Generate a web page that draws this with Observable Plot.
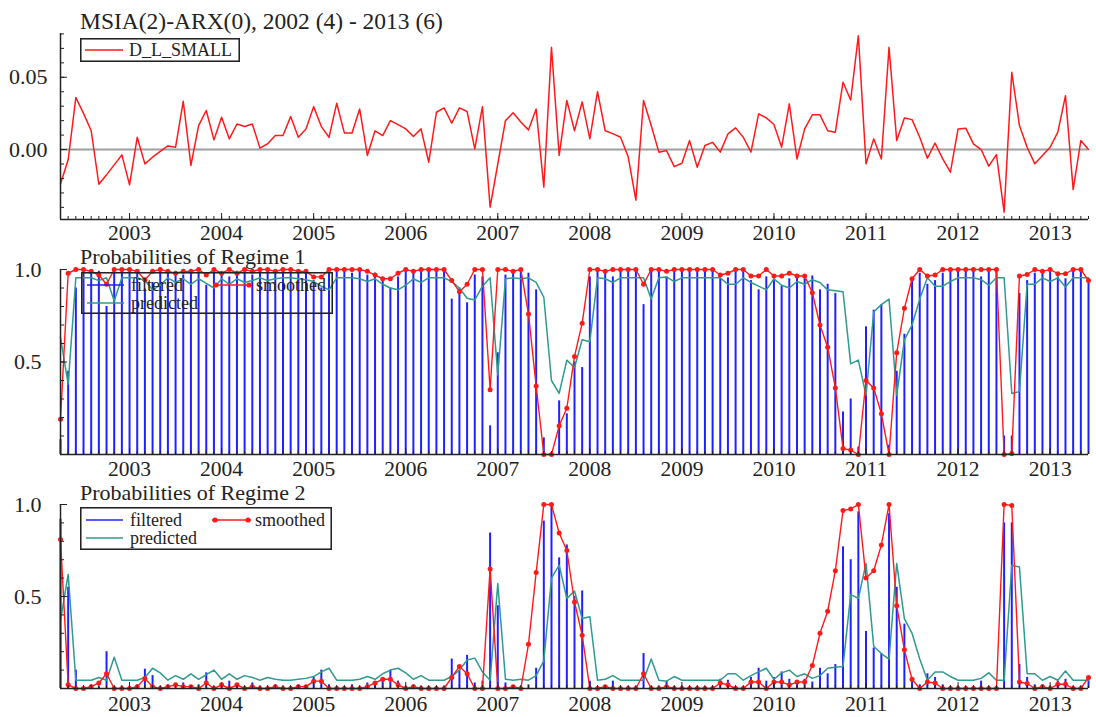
<!DOCTYPE html>
<html><head><meta charset="utf-8">
<script src="https://cdn.jsdelivr.net/npm/d3@7"></script>
<script src="https://cdn.jsdelivr.net/npm/@observablehq/plot@0.6"></script>
<style>
body{margin:0;background:#fff;}
#root{position:relative;width:1096px;height:717px;font-family:"Liberation Serif","Times New Roman",serif;color:#222;overflow:hidden;}
#root svg, #root svg text{font-family:"Liberation Serif","Times New Roman",serif !important;}
.panel{position:absolute;left:0;}
.title{position:absolute;left:80px;line-height:1;white-space:nowrap;}
.legend{position:absolute;}
</style></head>
<body><div id="root"></div>
<script>
// ---- data (monthly, 2002 (4) - 2013 (6)) ----
const startYear = 2002, startMonth = 4;
const mainTitle = "MSIA(2)-ARX(0), 2002 (4) - 2013 (6)";
const seriesName = "D_L_SMALL";
const regime1Title = "Probabilities of Regime 1";
const regime2Title = "Probabilities of Regime 2";
const yearTicks = [2003, 2004, 2005, 2006, 2007, 2008, 2009, 2010, 2011, 2012, 2013];
const topMinorTicks = [-0.04, -0.03, -0.02, -0.01, 0, 0.01, 0.02, 0.03, 0.04, 0.05, 0.06, 0.07, 0.08];
const topLabelTicks = [0, 0.05];
const probMinorTicks = [0, 0.1, 0.2, 0.3, 0.4, 0.5, 0.6, 0.7, 0.8, 0.9, 1.0];
const probLabelTicks = [0.5, 1.0];

const dlSmall = [
 -0.0237, -0.0071, 0.036, 0.025, 0.013, -0.024, -0.0175, -0.0106, -0.0037, -0.0244,
 0.0085, -0.0099, -0.0053, -0.0012, 0.0025, 0.0016, 0.0334, -0.011, 0.0166, 0.027,
 0.0067, 0.0224, 0.0074, 0.0177, 0.0159, 0.0177, 0.001, 0.004, 0.0097, 0.0097,
 0.0228, 0.0085, 0.0143, 0.0297, 0.0159, 0.0085, 0.032, 0.0115, 0.0115, 0.028,
 -0.0041, 0.013, 0.0097, 0.020, 0.0173, 0.0143, 0.009, 0.0143, -0.0088, 0.0258,
 0.0288, 0.0182, 0.0288, 0.0263, 0.0005, 0.0297, -0.0399, -0.010, 0.020, 0.0254,
 0.019, 0.0136, 0.028, -0.026, 0.0707, -0.004, 0.034, 0.013, 0.033, 0.0074,
 0.040, 0.013, 0.011, 0.0085, -0.005, -0.035, 0.034, 0.0166, -0.0018, -0.0007,
 -0.0118, -0.0095, 0.0062, -0.0122, 0.0028, 0.005, -0.0018, 0.0108, 0.015, 0.0085,
 -0.0018, 0.0247, 0.0219, 0.0173, 0.0016, 0.0316, -0.0065, 0.0143, 0.024, 0.024,
 0.013, 0.012, 0.0466, 0.0343, 0.0788, -0.0099, 0.0074, -0.0065, 0.0707, 0.0062,
 0.0219, 0.0207, 0.0085, -0.006, 0.0044, -0.0065, -0.0157, 0.0143, 0.0148, 0.0039,
 0, -0.0115, -0.0035, -0.0433, 0.0535, 0.0166, 0.0016, -0.0099, -0.0041, 0.0016,
 0.012, 0.0373, -0.0277, 0.0062, 0
];

// probabilities of regime 2 (regime 1 = 1 - regime 2)
const regime2Filtered = [
 0.92, 0.55, 0.10, 0.01, 0.02, 0.01, 0.20, 0.01, 0.01, 0.01,
 0.02, 0.105, 0.07, 0.01, 0.02, 0.01, 0.03, 0.01, 0.02, 0.085,
 0.01, 0.02, 0.04, 0.01, 0.01, 0.03, 0.01, 0.01, 0.02, 0.01,
 0.01, 0.02, 0.01, 0.06, 0.10, 0.02, 0.01, 0.01, 0.02, 0.01,
 0.03, 0.02, 0.05, 0.10, 0.04, 0.01, 0.02, 0.01, 0.01, 0.01,
 0.01, 0.16, 0.10, 0.18, 0.03, 0.04, 0.845, 0.45, 0.03, 0.01,
 0.01, 0.02, 0.11, 0.91, 0.99, 0.71, 0.78, 0.50, 0.53, 0.04,
 0.01, 0.01, 0.04, 0.01, 0.01, 0.01, 0.19, 0.01, 0.01, 0.04,
 0.01, 0.01, 0.01, 0.01, 0.01, 0.01, 0.05, 0.045, 0.01, 0.01,
 0.06, 0.11, 0.04, 0.06, 0.09, 0.05, 0.04, 0.05, 0.035, 0.11,
 0.08, 0.13, 0.77, 0.70, 0.96, 0.31, 0.22, 0.19, 0.95, 0.55,
 0.35, 0.06, 0.02, 0.08, 0.06, 0.02, 0.01, 0.01, 0.01, 0.01,
 0.04, 0.01, 0.01, 0.90, 0.90, 0.13, 0.06, 0.02, 0.02, 0.01,
 0.04, 0.05, 0.01, 0.01, 0.06
];
const regime2Smoothed = [
 0.81, 0.02, 0, 0, 0.01, 0.03, 0.08, 0, 0, 0,
 0.01, 0.055, 0.01, 0, 0.01, 0.02, 0.01, 0.01, 0, 0.03,
 0, 0.02, 0, 0.02, 0, 0.01, 0, 0, 0.01, 0,
 0, 0.01, 0.01, 0.04, 0.04, 0, 0, 0, 0, 0,
 0.01, 0.03, 0.05, 0.05, 0.02, 0, 0.01, 0, 0, 0,
 0, 0.06, 0.12, 0.08, 0, 0, 0.65, 0, 0, 0.01,
 0, 0.24, 0.63, 1.0, 1.0, 0.845, 0.75, 0.47, 0.29, 0,
 0, 0.01, 0, 0, 0, 0, 0.08, 0, 0, 0.01,
 0, 0, 0, 0, 0, 0, 0.03, 0.02, 0, 0,
 0.035, 0.035, 0, 0.035, 0.035, 0.02, 0.035, 0.035, 0.125, 0.30,
 0.42, 0.64, 0.967, 0.976, 1.0, 0.60, 0.64, 0.78, 1.0, 0.45,
 0.21, 0.05, 0, 0.035, 0.03, 0, 0, 0, 0, 0,
 0, 0, 0, 1.0, 0.995, 0.035, 0.027, 0, 0.01, 0,
 0.023, 0.023, 0, 0, 0.06
];
const regime2Predicted = [
 0.37, 0.62, 0.045, 0.045, 0.045, 0.06, 0.045, 0.17, 0.045, 0.045,
 0.045, 0.06, 0.11, 0.085, 0.045, 0.07, 0.05, 0.08, 0.05, 0.075,
 0.10, 0.05, 0.08, 0.05, 0.07, 0.06, 0.045, 0.06, 0.05, 0.045,
 0.045, 0.05, 0.055, 0.065, 0.09, 0.11, 0.045, 0.045, 0.045, 0.05,
 0.065, 0.05, 0.08, 0.10, 0.11, 0.085, 0.05, 0.07, 0.045, 0.045,
 0.045, 0.065, 0.10, 0.155, 0.165, 0.09, 0.045, 0.57, 0.05, 0.045,
 0.05, 0.045, 0.07, 0.15, 0.60, 0.67, 0.49, 0.53, 0.38, 0.39,
 0.045, 0.05, 0.07, 0.045, 0.045, 0.045, 0.045, 0.16, 0.045, 0.04,
 0.065, 0.045, 0.045, 0.045, 0.045, 0.045, 0.045, 0.08, 0.08, 0.045,
 0.07, 0.09, 0.11, 0.05, 0.085, 0.10, 0.065, 0.08, 0.055, 0.07,
 0.11, 0.115, 0.12, 0.51, 0.49, 0.68, 0.23, 0.19, 0.16, 0.68,
 0.38, 0.30, 0.16, 0.045, 0.09, 0.09, 0.065, 0.045, 0.045, 0.045,
 0.055, 0.085, 0.045, 0.045, 0.67, 0.66, 0.08, 0.08, 0.045, 0.065,
 0.045, 0.095, 0.045, 0.045, 0.045
];

// ---- build ----
const RED = "#ff1a1a", BLUE = "#2020ff", TEAL = "#2f9a8f", INK = "#222";
const FONT = '"Liberation Serif", "Times New Roman", serif';
const t = dlSmall.map((_, i) => startYear + (startMonth - 1 + i) / 12);
const topRows = dlSmall.map((v, i) => ({t: t[i], v}));
const r2 = t.map((x, i) => ({t: x, f: regime2Filtered[i], s: regime2Smoothed[i], p: regime2Predicted[i]}));
const r1 = r2.map(d => ({t: d.t, f: 1 - d.f, s: 1 - d.s, p: 1 - d.p}));
const xDomain = [t[0], t[t.length - 1]];

function xAxisMarks(pad) {
  return [
    Plot.axisX({ticks: t, tickSize: -3, tickFormat: () => "", stroke: INK}),
    Plot.axisX({ticks: yearTicks, tickSize: -6, tickFormat: () => "", stroke: INK}),
    Plot.axisX({ticks: yearTicks, tickSize: 0, tickPadding: pad, tickFormat: d => `${d}`, fontSize: 21.5, fill: INK, fontFamily: FONT})
  ];
}
function frameLines(yMin) {
  return [
    Plot.ruleY([yMin], {stroke: INK, strokeWidth: 1.5}),
    Plot.ruleX([xDomain[0]], {stroke: INK, strokeWidth: 1.5})
  ];
}
const common = (h, mt, mb) => ({
  width: 1096, height: h, marginLeft: 60, marginRight: 8, marginTop: mt, marginBottom: mb,
  style: {fontFamily: FONT, fontSize: "22px", color: INK, background: "transparent", overflow: "visible"}
});

const topPlot = Plot.plot({
  ...common(245, 33, 26),
  x: {domain: xDomain, label: null, axis: null},
  y: {domain: [-0.0484, 0.0803], label: null, axis: null},
  marks: [
    Plot.ruleY([0], {stroke: "#a0a0a0", strokeWidth: 2}),
    Plot.line(topRows, {x: "t", y: "v", stroke: RED, strokeWidth: 1.5}),
    ...frameLines(-0.0484),
    Plot.axisY({ticks: topMinorTicks, tickSize: -4, tickFormat: () => "", stroke: INK}),
    Plot.axisY({ticks: topLabelTicks, tickSize: -7, tickFormat: () => "", stroke: INK}),
    Plot.axisY({ticks: topLabelTicks, tickSize: 0, tickPadding: 13, tickFormat: d3.format(".2f"), fontSize: 22, fill: INK, fontFamily: FONT}),
    ...xAxisMarks(5.7)
  ]
});

function probPlot(rows, h, mt, mb, pad) {
  return Plot.plot({
    ...common(h, mt, mb),
    x: {domain: xDomain, label: null, axis: null},
    y: {domain: [0, 1], label: null, axis: null},
    marks: [
      Plot.ruleX(rows, {x: "t", y1: 0, y2: "f", stroke: BLUE, strokeWidth: 2}),
      Plot.line(rows, {x: "t", y: "p", stroke: TEAL, strokeWidth: 1.5}),
      Plot.line(rows, {x: "t", y: "s", stroke: RED, strokeWidth: 1.4}),
      Plot.dot(rows, {x: "t", y: "s", r: 2.5, fill: RED, stroke: "none"}),
      ...frameLines(0),
      Plot.axisY({ticks: probMinorTicks, tickSize: -4, tickFormat: () => "", stroke: INK}),
      Plot.axisY({ticks: probLabelTicks, tickSize: -7, tickFormat: () => "", stroke: INK}),
      Plot.axisY({ticks: probLabelTicks, tickSize: 0, tickPadding: 19, tickFormat: d3.format(".1f"), fontSize: 22, fill: INK, fontFamily: FONT}),
      ...xAxisMarks(pad)
    ]
  });
}
const midPlot = probPlot(r1, 240, 24, 31, 6.4);
const botPlot = probPlot(r2, 232, 19, 29, 7.6);

const root = document.getElementById("root");
[[topPlot, 0], [midPlot, 245], [botPlot, 485]].forEach(([svg, y]) => {
  svg.classList.add("panel");
  svg.style.position = "absolute";
  svg.style.top = y + "px";
  svg.style.left = "0px";
  root.appendChild(svg);
});

function addTitle(text, topPx, size) {
  const d = document.createElement("div");
  d.className = "title";
  d.style.top = topPx + "px";
  d.style.fontSize = size + "px";
  d.textContent = text;
  root.appendChild(d);
}
addTitle(mainTitle, 9.6, 23.5);
addTitle(regime1Title, 246.1, 22);
addTitle(regime2Title, 482.1, 22);

function addLegend(left, topPx, w, h, items) {
  const NS = "http://www.w3.org/2000/svg";
  const s = document.createElementNS(NS, "svg");
  s.setAttribute("width", w); s.setAttribute("height", h);
  s.setAttribute("class", "legend");
  s.style.left = left + "px"; s.style.top = topPx + "px";
  let html = `<rect x="0.75" y="0.75" width="${w - 1.5}" height="${h - 1.5}" fill="none" stroke="${INK}" stroke-width="1.6"/>`;
  for (const it of items) {
    html += `<line x1="${it.x1}" x2="${it.x2}" y1="${it.y}" y2="${it.y}" stroke="${it.color}" stroke-width="${it.sw || 1.6}"/>`;
    if (it.dots) html += `<circle cx="${it.x1 + 3}" cy="${it.y}" r="2.6" fill="${it.color}"/><circle cx="${it.x2 - 3}" cy="${it.y}" r="2.6" fill="${it.color}"/>`;
    html += `<text x="${it.tx}" y="${it.y}" dy="0.33em" font-size="18" fill="${INK}">${it.label}</text>`;
  }
  s.innerHTML = html;
  root.appendChild(s);
}
addLegend(80, 38, 160, 24, [{x1: 5, x2: 43, y: 12, color: RED, tx: 49, label: seriesName}]);
const probItems = [
  {x1: 6, x2: 43, y: 13, color: BLUE, tx: 50, label: "filtered"},
  {x1: 132, x2: 171, y: 13, color: RED, tx: 175, label: "smoothed", dots: true},
  {x1: 6, x2: 43, y: 31, color: TEAL, tx: 50, label: "predicted"}
];
addLegend(81, 272, 252, 42, probItems);
addLegend(80, 507, 252, 43, probItems);
</script>
</body></html>
